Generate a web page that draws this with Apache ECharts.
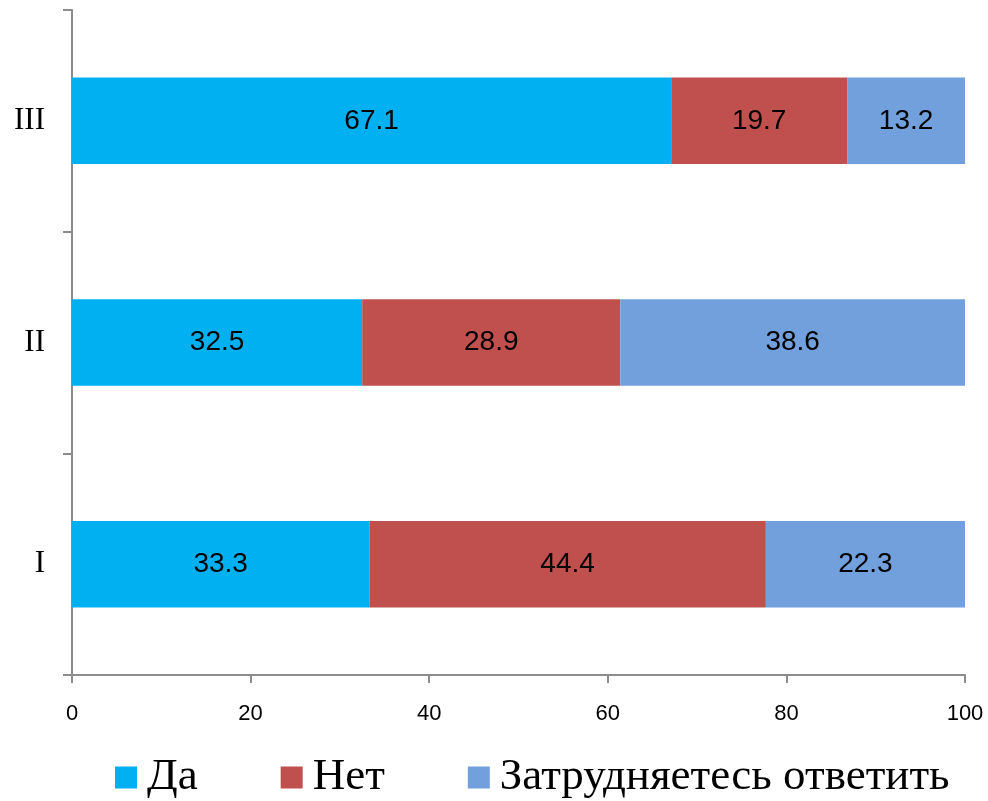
<!DOCTYPE html>
<html>
<head>
<meta charset="utf-8">
<script src="https://cdn.jsdelivr.net/npm/echarts@6/dist/echarts.min.js"></script>
<style>
  html, body { margin: 0; padding: 0; background: #fff; }
  #chart { width: 988px; height: 801px; }
</style>
</head>
<body>
<div id="chart"></div>
<script>
// Survey groups (bottom to top) and answer shares, %
const categories = ['I', 'II', 'III'];
const seriesNames = ['Да', 'Нет', 'Затрудняетесь ответить'];
const yesValues = [33.3, 32.5, 67.1];
const noValues = [44.4, 28.9, 19.7];
const unsureValues = [22.3, 38.6, 13.2];
const xTicks = [0, 20, 40, 60, 80, 100];

const colors = ['#00B0F0', '#C0504D', '#71A0DC'];
const axisGray = '#8C8C8C';

const chart = echarts.init(document.getElementById('chart'));

function barSeries(name, values, color) {
  return {
    name: name,
    type: 'bar',
    stack: 'total',
    barWidth: '39%',
    data: values,
    itemStyle: { color: color },
    label: {
      show: true,
      position: 'inside',
      color: '#000',
      fontFamily: 'Liberation Sans, Arial, sans-serif',
      fontSize: 28,
      formatter: p => p.value.toFixed(1)
    }
  };
}

chart.setOption({
  animation: false,
  backgroundColor: '#fff',
  grid: { left: 72, right: 23, top: 10, bottom: 126, containLabel: false },
  xAxis: {
    type: 'value',
    min: xTicks[0],
    max: xTicks[xTicks.length - 1],
    interval: 20,
    axisLine: { show: true, lineStyle: { color: axisGray, width: 2 } },
    axisTick: { show: true, length: 8, lineStyle: { color: axisGray, width: 2 } },
    splitLine: { show: false },
    axisLabel: {
      color: '#000',
      fontFamily: 'Liberation Sans, Arial, sans-serif',
      fontSize: 22,
      margin: 28
    }
  },
  yAxis: {
    type: 'category',
    data: categories,
    axisLine: { show: true, lineStyle: { color: axisGray, width: 2 } },
    axisTick: { show: true, length: 9, lineStyle: { color: axisGray, width: 2 } },
    axisLabel: {
      color: '#000',
      fontFamily: 'Liberation Serif, Times New Roman, serif',
      fontSize: 31,
      margin: 27
    }
  },
  legend: {
    top: 755,
    left: 115,
    padding: 0,
    itemWidth: 22,
    itemHeight: 22,
    itemGap: 83,
    icon: 'rect',
    textStyle: {
      color: '#000',
      fontFamily: 'Liberation Serif, Times New Roman, serif',
      fontSize: 45,
      lineHeight: 45,
      padding: [0, 0, 0, 5]
    },
    data: seriesNames
  },
  series: [
    barSeries(seriesNames[0], yesValues, colors[0]),
    barSeries(seriesNames[1], noValues, colors[1]),
    barSeries(seriesNames[2], unsureValues, colors[2])
  ]
});
</script>
</body>
</html>
